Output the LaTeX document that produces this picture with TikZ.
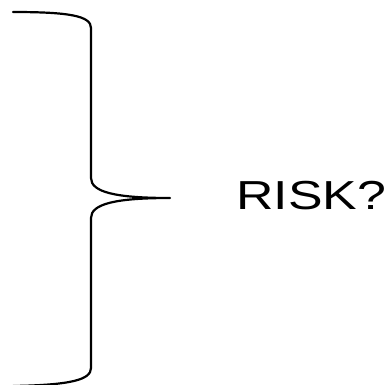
\documentclass[tikz,border=0pt]{standalone}
\usepackage{fontspec}
\setmainfont{Liberation Sans}
\usetikzlibrary{positioning}

\begin{document}
\begin{tikzpicture}[
    x=1pt, y=-1pt,
    brace_line/.style={draw, line width=2.2pt, line cap=round, line join=round},
    label_txt/.style={font=\fontsize{40.5}{44}\selectfont, inner sep=0pt,
                      xscale=1.28, transform shape}
]
\useasboundingbox (0,0) rectangle (389,384);

% Brace (left)
\coordinate (tip) at (170,198);
\draw[brace_line] (13,12) .. controls (70,12) and (91,16) .. (91,28)
    -- (91,178) .. controls (91,192) and (115,198) .. (tip)
    .. controls (115,198) and (91,204) .. (91,218)
    -- (91,368) .. controls (91,380) and (70,385) .. (13,386);

% Label (right)
\node[label_txt, anchor=base west] (risk) at (236,209) {RISK?};

\end{tikzpicture}
\end{document}
